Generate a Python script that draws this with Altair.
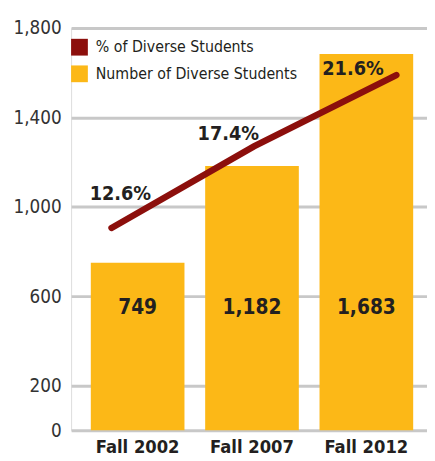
import altair as alt
import pandas as pd

years = ["Fall 2002", "Fall 2007", "Fall 2012"]
counts = [749, 1182, 1683]
count_labels = ["749", "1,182", "1,683"]
pcts = [12.6, 17.4, 21.6]
pct_labels = ["12.6%", "17.4%", "21.6%"]
series_names = ["% of Diverse Students", "Number of Diverse Students"]
y_ticks = [0, 200, 600, 1000, 1400, 1800]

RED = "#8C0F0C"
GOLD = "#FCB817"
TXT = "#231F20"
FONT = "DejaVu Sans Condensed, Liberation Sans, sans-serif"

df = pd.DataFrame({
    "year": years,
    "count": counts,
    "count_label": count_labels,
    "pct": pcts,
    "pct_label": pct_labels,
    "idx": list(range(len(years))),
    "series": [series_names[1]] * len(years),
})

base = alt.Chart(df)

xband = alt.X("year:N", sort=years, title=None,
              scale=alt.Scale(paddingInner=0.181, paddingOuter=0.1466, align=0.588),
              axis=alt.Axis(labelAngle=0, ticks=False, domain=False, labelFont=FONT,
                            labelFontSize=18.5, labelFontWeight="bold", labelColor=TXT,
                            labelPadding=8))
ycount = alt.Y("count:Q", title=None,
               scale=alt.Scale(domain=[0, 1800], nice=False),
               axis=alt.Axis(values=y_ticks, labelExpr="format(datum.value, ',.0f')",
                             ticks=False, domain=False,
                             labelFont=FONT, labelFontSize=19, labelColor="#333333",
                             labelPadding=10, gridColor="#C8C8C8", gridWidth=3))

bars = base.mark_bar().encode(
    x=xband,
    y=ycount,
    color=alt.Color("series:N", title=None,
                    scale=alt.Scale(domain=series_names, range=[RED, GOLD]),
                    legend=alt.Legend(orient="none", legendX=0, legendY=11,
                                      symbolType="square", symbolSize=289,
                                      symbolStrokeWidth=0, labelFont=FONT,
                                      labelFontSize=16, labelColor=TXT, labelLimit=400,
                                      labelOffset=8, rowPadding=10)),
)

bar_text = base.mark_text(font=FONT, fontSize=21, fontWeight="bold", color=TXT,
                          baseline="middle", align="center", dy=-124).encode(
    x=alt.X("year:N", sort=years),
    y=alt.datum(0),
    text="count_label:N",
)

bar_layer = alt.layer(bars, bar_text)

xq = alt.X("idx:Q", scale=alt.Scale(domain=[-0.2837, 2.215], nice=False, zero=False), axis=None)
yq = alt.Y("pct:Q", scale=alt.Scale(domain=[0.7, 24.37], nice=False, zero=False), axis=None)

line = base.mark_line(color=RED, strokeWidth=6.5, strokeCap="round").encode(x=xq, y=yq)

offsets = [(9, -34), (-26, -13), (-44, -6)]
pct_texts = []
for i, (dx, dy) in enumerate(offsets):
    pct_texts.append(
        base.transform_filter(alt.datum.idx == i).mark_text(
            font=FONT, fontSize=20, fontWeight="bold", color=TXT,
            baseline="middle", align="center", dx=dx, dy=dy
        ).encode(x=xq, y=yq, text="pct_label:N")
    )

line_layer = alt.layer(line, *pct_texts)

chart = alt.layer(bar_layer, line_layer).resolve_scale(x="independent", y="independent").properties(
    width=361, height=408,
    autosize=alt.AutoSizeParams(type="none"),
    padding={"left": 64, "top": 17, "right": 0, "bottom": 30},
).configure_view(stroke=None).configure(background="white")

chart.save("out.html", embed_options={"renderer": "svg", "actions": False})
